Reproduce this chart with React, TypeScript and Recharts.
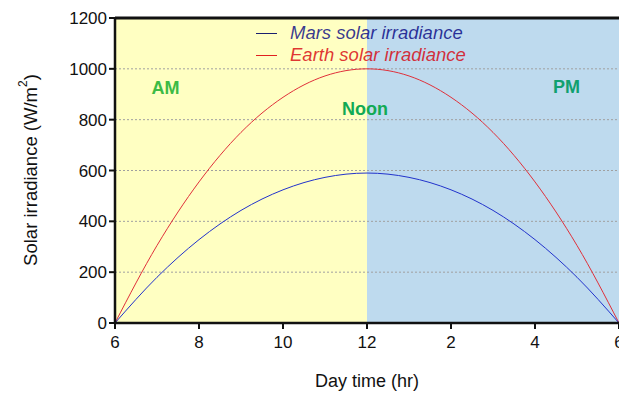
import React from 'react';
import { LineChart, Line, XAxis, YAxis, ReferenceArea, ReferenceLine, ReferenceDot } from 'recharts';

const hours = [6, 7, 8, 9, 10, 11, 12, 13, 14, 15, 16, 17, 18];
const earth = [0, 305, 555, 750, 888, 972, 1000, 972, 888, 750, 555, 305, 0];
const mars = [0, 180, 328, 443, 524, 573, 590, 573, 524, 443, 328, 180, 0];
const xTicks = [6, 8, 10, 12, 14, 16, 18];
const yTicks = [0, 200, 400, 600, 800, 1000, 1200];
const gridLines = [200, 400, 600, 800, 1000];

const data = hours.map((h, i) => ({ h, earth: earth[i], mars: mars[i] }));

const FONT = '"Liberation Sans", Arial, sans-serif';

const legendItems = [
    { name: 'Mars solar irradiance', line: '#1a1f6e', text: 'rgba(0,0,128,0.78)' },
    { name: 'Earth solar irradiance', line: '#e02020', text: 'rgba(215,0,10,0.8)' },
];

function LegendBox() {
    return (
        <div style={{ position: 'absolute', left: 256, top: 22, fontFamily: FONT }}>
            {legendItems.map((it) => (
                <div key={it.name} style={{ display: 'flex', alignItems: 'center', height: 22 }}>
                    <div style={{ width: 21, height: 1, background: it.line, marginRight: 13 }} />
                    <span style={{ fontStyle: 'italic', fontSize: 18.5, color: it.text, whiteSpace: 'nowrap' }}>{it.name}</span>
                </div>
            ))}
        </div>
    );
}

function YLabel() {
    return (
        <text x={30} y={170} transform="rotate(-90 30 170)" textAnchor="middle" dominantBaseline="central"
            fontFamily={FONT} fontSize={18.5} fill="#111">
            Solar irradiance (W/m<tspan dy={-7} fontSize={12}>2</tspan><tspan dy={7}>)</tspan>
        </text>
    );
}

const areaLabel = (value: string, fill: string) => ({
    value, position: 'center' as const, fill, fontSize: 18, fontWeight: 'bold', fontFamily: FONT,
});

export default function App() {
    return (
        <div style={{ position: 'fixed', left: 0, top: 0, width: 619, height: 393, overflow: 'hidden', background: '#fff' }}>
            <LineChart width={640} height={393} data={data} margin={{ top: 18, right: 21, left: 0, bottom: 0 }}>
                <ReferenceArea x1={6} x2={12} y1={0} y2={1200} fill="#ffffc2" fillOpacity={1} stroke="none" />
                <ReferenceArea x1={12} x2={18} y1={0} y2={1200} fill="#bedaee" fillOpacity={1} stroke="none" />
                {gridLines.map((g) => (
                    <ReferenceLine key={g} y={g} stroke="#a0a0a0" strokeDasharray="2 2" strokeWidth={1} />
                ))}
                <ReferenceLine y={1200} stroke="#111" strokeWidth={3} />
                <XAxis
                    dataKey="h"
                    type="number"
                    domain={[6, 18]}
                    ticks={xTicks}
                    allowDataOverflow
                    tickFormatter={(v) => String(v > 12 ? v - 12 : v)}
                    tick={{ fontSize: 17, fill: '#111', fontFamily: FONT }}
                    tickSize={6}
                    tickMargin={7}
                    tickLine={{ stroke: '#111', strokeWidth: 2 }}
                    axisLine={{ stroke: '#111', strokeWidth: 2.5 }}
                    height={70}
                    label={{ value: 'Day time (hr)', position: 'insideBottom', offset: 6, fontSize: 18, fill: '#111', fontFamily: FONT }}
                />
                <YAxis
                    type="number"
                    domain={[0, 1200]}
                    ticks={yTicks}
                    tick={{ fontSize: 17, fill: '#111', fontFamily: FONT }}
                    tickSize={6}
                    tickMargin={2}
                    tickLine={{ stroke: '#111', strokeWidth: 2 }}
                    axisLine={{ stroke: '#111', strokeWidth: 2.5 }}
                    width={115}
                    label={<YLabel />}
                />
                <Line type="monotone" dataKey="earth" stroke="#e0303a" strokeWidth={1} dot={false} isAnimationActive={false} />
                <Line type="monotone" dataKey="mars" stroke="#2233cc" strokeWidth={1} dot={false} isAnimationActive={false} />
                <ReferenceDot x={7.2} y={925} r={0} fill="none" stroke="none" label={areaLabel('AM', '#3dbb45')} />
                <ReferenceDot x={11.95} y={842} r={0} fill="none" stroke="none" label={areaLabel('Noon', '#12aa55')} />
                <ReferenceDot x={16.75} y={929} r={0} fill="none" stroke="none" label={areaLabel('PM', '#10a070')} />
            </LineChart>
            <LegendBox />
        </div>
    );
}
